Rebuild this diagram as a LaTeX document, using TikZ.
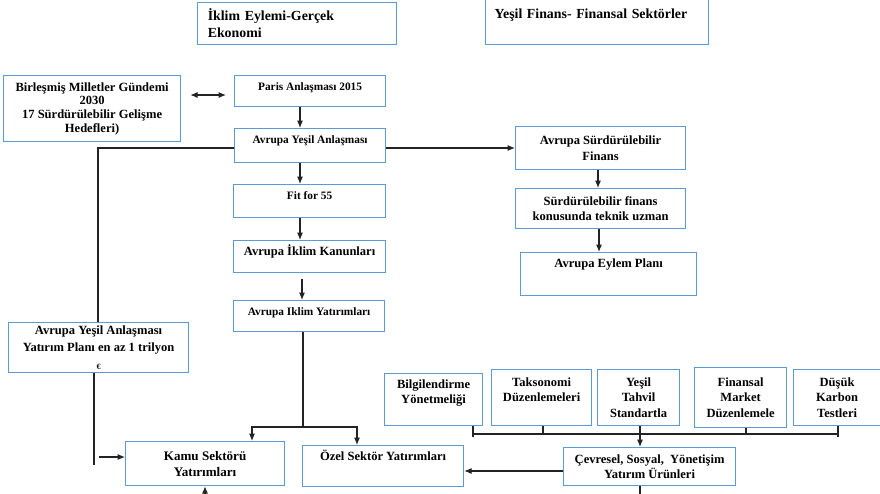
\documentclass[tikz,border=0pt]{standalone}
\usepackage{fontspec}
\setmainfont{Liberation Serif}
\usetikzlibrary{arrows.meta}
\definecolor{bleucadre}{RGB}{91,155,213}
\definecolor{gristrait}{RGB}{35,35,35}

\begin{document}
\begin{tikzpicture}[x=0.75pt,y=-0.75pt,
	boite/.style={draw=bleucadre,line width=0.9pt,anchor=north west,align=center,inner sep=2.5pt,font=\bfseries\fontsize{9.4}{11.5}\selectfont},
	taille/.style 2 args={minimum width=#1*0.75pt,minimum height=#2*0.75pt},
	petit/.style={font=\bfseries\fontsize{8.5}{10}\selectfont},
	haut/.style={text height=8.5pt,text depth=#1},
	trait/.style={draw=gristrait,line width=0.8pt},
	pointe/.tip={Latex[length=5.5pt,width=4.5pt]},
	fleche/.style={trait,arrows={-pointe}}]
	\useasboundingbox (0,0) rectangle (880,493);
	
	\node[boite,taille={199}{42},align=left,text width=134pt,font=\bfseries\fontsize{10.4}{12.75}\selectfont] (iklim)
	at (197,2) {İklim Eylemi-Gerçek\\Ekonomi};
	\node[boite,taille={223}{46},align=left,text width=153.75pt,text height=12.2pt,text depth=17.3pt,font=\bfseries\fontsize{10.4}{12.75}\selectfont] (finans)
	at (485,-2) {Yeşil Finans- Finansal Sektörler};
	
	\node[boite,taille={177}{66},font=\bfseries\fontsize{9.4}{10.2}\selectfont] (birlesmis)
	at (3,75) {Birleşmiş Milletler Gündemi\\2030\\17 Sürdürülebilir Gelişme\\Hedefleri)};
	\node[boite,petit,taille={151}{31},haut=9.75pt] (paris)
	at (234,75) {Paris Anlaşması 2015};
	\node[boite,petit,taille={151}{34},haut=12pt] (yesil)
	at (234,128) {Avrupa Yeşil Anlaşması};
	\node[boite,petit,taille={152}{33},haut=11.25pt] (fit)
	at (233,184) {Fit for 55};
	\node[boite,taille={152}{32},haut=10.5pt] (kanun)
	at (233,240) {Avrupa İklim Kanunları};
	\node[boite,petit,taille={151}{31},haut=9.75pt] (yatirim)
	at (233,300) {Avrupa Iklim Yatırımları};
	
	\node[boite,taille={170}{43}] (surdur)
	at (515,126) {Avrupa Sürdürülebilir\\Finans};
	\node[boite,taille={170}{40}] (uzman)
	at (515,188) {Sürdürülebilir finans\\konusunda teknik uzman};
	\node[boite,taille={176}{43},haut=18.75pt] (eylem)
	at (520,252) {Avrupa Eylem Planı};
	
	\node[boite,taille={180}{48},font=\bfseries\fontsize{9.4}{13}\selectfont] (plan)
	at (8,322) {Avrupa Yeşil Anlaşması\\Yatırım Planı en az 1 trilyon\\{\fontsize{6}{6}\selectfont €}};
	\node[boite,taille={159}{44},font=\bfseries\fontsize{9.8}{12}\selectfont] (kamu)
	at (125,441) {Kamu Sektörü\\Yatırımları};
	\node[boite,taille={161}{41},haut=17.25pt] (ozel)
	at (302,445) {Özel Sektör Yatırımları};
	
	\node[boite,taille={98}{52}] (bilgi)
	at (384,373) {Bilgilendirme\\Yönetmeliği\\\mbox{}};
	\node[boite,taille={100}{56}] (takso)
	at (491,369) {Taksonomi\\Düzenlemeleri\\\mbox{}};
	\node[boite,taille={82}{56}] (tahvil)
	at (597,369) {Yeşil\\Tahvil\\Standartla};
	\node[boite,taille={92}{60}] (market)
	at (694,367) {Finansal\\Market\\Düzenlemele};
	\node[boite,taille={87}{56}] (karbon)
	at (793,369) {Düşük\\Karbon\\Testleri};
	\node[boite,taille={172}{38}] (cevre)
	at (563,447) {Çevresel, Sosyal,\ \ Yönetişim\\Yatırım Ürünleri};
	
	\coordinate (coude) at (94,465);
	\coordinate (fourche) at (303,427);
	\coordinate (basK) at (205,495);
	\coordinate (barreG) at (473,434);
	\coordinate (barreD) at (838,434);
	\coordinate (basC) at (640,495);
	
	\draw[trait,arrows={pointe-pointe},shorten <=6.75pt,shorten >=6pt] (birlesmis.east |- 0,95) -- (paris.west |- 0,95);
	\draw[fleche] (paris.south -| 300,0) -- (yesil.north -| 300,0);
	\draw[fleche] (yesil.south -| 300,0) -- (fit.north -| 300,0);
	\draw[fleche] (fit.south -| 300,0) -- (kanun.north -| 300,0);
	\draw[fleche,shorten <=4.5pt] (kanun.south -| 302,0) -- (yatirim.north -| 302,0);
	\draw[fleche] (yesil.east |- 0,148) -- (surdur.west |- 0,148);
	\draw[fleche] (surdur.south -| 598,0) -- (uzman.north -| 598,0);
	\draw[fleche] (uzman.south -| 599,0) -- (eylem.north -| 599,0);
	\draw[trait] (yesil.west |- 0,148) -| (plan.north -| 98,0);
	\draw[trait] (plan.south -| coude) -- (coude);
	\draw[fleche] (99,457) -- (kamu.west |- 0,457);
	\draw[trait] (yatirim.south -| fourche) -- (fourche);
	\draw[fleche] (fourche) -| (kamu.north -| 252,0);
	\draw[fleche] (fourche) -| (ozel.north -| 357,0);
	\draw[fleche] (basK) -- (kamu.south -| basK);
	
	\draw[trait] (barreG) -- (barreD);
	\foreach \n/\x/\y in {bilgi/473/437,takso/543/434,market/746/434,karbon/838/437}
		\draw[trait] (\n.south -| \x,0) -- (\x,\y);
	\draw[fleche] (tahvil.south -| basC) -- (cevre.north -| basC);
	\draw[fleche] (cevre.west |- 0,471) -- (ozel.east |- 0,471);
	\draw[trait] (cevre.south -| basC) -- (basC);
\end{tikzpicture}
\end{document}
